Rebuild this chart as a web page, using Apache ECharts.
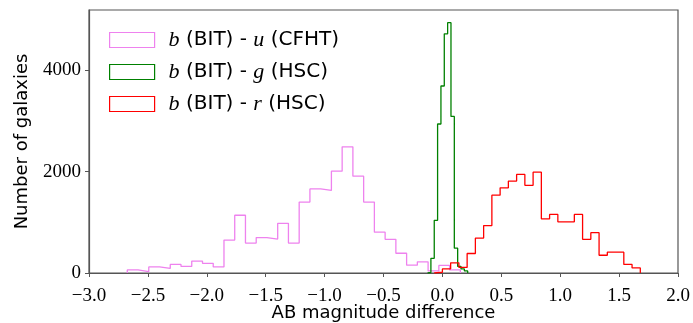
<!DOCTYPE html>
<html>
<head>
<meta charset="utf-8">
<script src="https://cdn.jsdelivr.net/npm/echarts@6/dist/echarts.min.js"></script>
<style>
  html, body { margin: 0; padding: 0; background: #fff; }
  #chart { width: 693px; height: 323px; }
</style>
</head>
<body>
<div id="chart"></div>
<script>
// Histogram counts per bin; each histogram has its own first edge and bin width.
const uStart = -2.675, uWidth = 0.0912;
const uCounts = [60, 25, 120, 90, 170, 130, 235, 190, 120, 650, 1140, 590, 700, 670, 980, 590,
                 1400, 1660, 1630, 2010, 2490, 1910, 1400, 805, 665, 390, 155, 220, 40, 150, 60];

const gStart = -0.126, gWidth = 0.0284;
const gCounts = [10, 290, 1040, 2940, 3690, 4720, 4940, 3090, 490, 130, 80, 40];

const rStart = -0.07, rWidth = 0.07;
const rCounts = [15, 80, 200, 110, 385, 690, 935, 1535, 1680, 1815, 1945, 1730, 1990, 1070, 1155,
                 1010, 1010, 1155, 665, 795, 350, 410, 410, 170, 100];

const xTicks = [-3.0, -2.5, -2.0, -1.5, -1.0, -0.5, 0.0, 0.5, 1.0, 1.5, 2.0];
const yTicks = [0, 2000, 4000];

const seriesNames = ['b (BIT) - u (CFHT)', 'b (BIT) - g (HSC)', 'b (BIT) - r (HSC)'];
const legendRich = [
  '{m|b} (BIT) - {m|u} (CFHT)',
  '{m|b} (BIT) - {m|g} (HSC)',
  '{m|b} (BIT) - {m|r} (HSC)'
];
const colors = ['violet', 'green', 'red'];

// Outline of a step histogram: up from the baseline, across each bin, back down.
function stepOutline(start, width, counts) {
  const pts = [[start, 0]];
  counts.forEach((c, i) => {
    pts.push([start + i * width, c]);
    pts.push([start + (i + 1) * width, c]);
  });
  pts.push([start + counts.length * width, 0]);
  return pts;
}

const hists = [
  stepOutline(uStart, uWidth, uCounts),
  stepOutline(gStart, gWidth, gCounts),
  stepOutline(rStart, rWidth, rCounts)
];

const serifFont = '"Liberation Serif", "DejaVu Serif", serif';
const sansFont = '"DejaVu Sans", "Liberation Sans", sans-serif';

const chart = echarts.init(document.getElementById('chart'), null, { renderer: 'canvas' });
chart.setOption({
  animation: false,
  backgroundColor: '#fff',
  grid: {
    left: 89, right: 15, top: 10, bottom: 50,
    outerBoundsMode: 'none', containLabel: false,
    show: true, borderColor: '#555', borderWidth: 1.2, backgroundColor: 'transparent'
  },
  legend: {
    left: 104, top: 24, orient: 'vertical',
    itemWidth: 45, itemHeight: 15, itemGap: 10,
    icon: 'rect',
    data: seriesNames.map((n, i) => ({
      name: n,
      itemStyle: { color: '#fff', borderColor: colors[i], borderWidth: 1.2 }
    })),
    formatter: name => legendRich[seriesNames.indexOf(name)],
    textStyle: {
      fontFamily: sansFont, fontSize: 20, color: '#000', padding: [0, 0, 0, 9],
      rich: {
        m: { fontFamily: serifFont, fontStyle: 'italic', fontSize: 22, color: '#000' }
      }
    }
  },
  xAxis: {
    type: 'value', min: -3.0, max: 2.0, interval: 0.5,
    name: 'AB magnitude difference', nameLocation: 'middle', nameGap: 31,
    nameMoveOverlap: false,
    nameTextStyle: { fontFamily: sansFont, fontSize: 18, color: '#000' },
    axisLine: { show: true, onZero: false, lineStyle: { color: '#555', width: 1.2 } },
    axisTick: { show: true, inside: false, length: 4, lineStyle: { color: '#555' },
                customValues: xTicks },
    axisLabel: {
      customValues: xTicks,
      fontFamily: serifFont, fontSize: 19, color: '#000', margin: 14,
      formatter: v => (v < 0 ? '\u2212' : '') + Math.abs(v).toFixed(1)
    },
    splitLine: { show: false }
  },
  yAxis: {
    type: 'value', min: 0, max: 5190,
    name: 'Number of galaxies', nameLocation: 'middle', nameGap: 58,
    nameMoveOverlap: false,
    nameTextStyle: { fontFamily: sansFont, fontSize: 18, color: '#000' },
    axisLine: { show: true, onZero: false, lineStyle: { color: '#555', width: 1.2 } },
    axisTick: { show: true, inside: false, length: 4, lineStyle: { color: '#555' },
                customValues: yTicks },
    axisLabel: {
      customValues: yTicks,
      fontFamily: serifFont, fontSize: 19, color: '#000', margin: 8,
      formatter: v => String(v)
    },
    splitLine: { show: false }
  },
  series: hists.map((pts, i) => ({
    name: seriesNames[i],
    type: 'line',
    data: pts,
    showSymbol: false,
    symbol: 'none',
    lineStyle: { color: colors[i], width: 1.3 },
    itemStyle: { color: colors[i] },
    z: 2 + i
  }))
});
</script>
</body>
</html>
